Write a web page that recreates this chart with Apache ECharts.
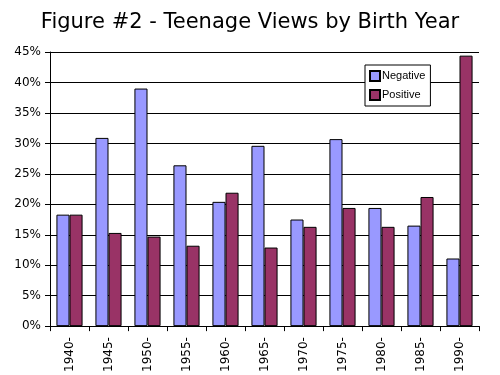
<!DOCTYPE html>
<html>
<head>
<meta charset="utf-8">
<script src="https://cdn.jsdelivr.net/npm/echarts@6/dist/echarts.min.js"></script>
<style>
  html, body { margin: 0; padding: 0; background: #fff; }
  #chart { width: 500px; height: 375px; }
</style>
</head>
<body>
<div id="chart"></div>
<script>
// birth year groups
const years = ["1940", "1945", "1950", "1955", "1960", "1965", "1970", "1975", "1980", "1985", "1990"];
// percent of teens
const negative = [18.3, 30.9, 39.0, 26.4, 20.4, 29.6, 17.5, 30.7, 19.4, 16.5, 11.1];
const positive = [18.3, 15.3, 14.7, 13.2, 21.9, 12.9, 16.3, 19.4, 16.3, 21.2, 44.4];

const chart = echarts.init(document.getElementById("chart"));
chart.setOption({
  animation: false,
  backgroundColor: "#fff",
  textStyle: { fontFamily: "DejaVu Sans" },
  title: {
    text: "Figure #2 - Teenage Views by Birth Year",
    left: "center",
    top: 7,
    textStyle: { fontSize: 21, fontWeight: "normal", color: "#000", fontFamily: "DejaVu Sans" }
  },
  legend: {
    orient: "vertical",
    left: 365,
    top: 65,
    padding: [5, 5, 5, 4],
    itemWidth: 10,
    itemHeight: 10,
    itemGap: 7,
    backgroundColor: "#fff",
    borderColor: "#000",
    borderWidth: 1,
    borderRadius: 0,
    textStyle: { fontSize: 11, color: "#000", fontFamily: "Liberation Sans", padding: [0, 0, 0, -3] },
    data: [
      { name: "Negative", icon: "rect" },
      { name: "Positive", icon: "rect" }
    ]
  },
  grid: { left: 50, right: 21, top: 52, bottom: 47, containLabel: false },
  xAxis: {
    type: "category",
    data: years,
    axisLine: { lineStyle: { color: "#000", width: 1 } },
    axisTick: { show: true, length: 5, lineStyle: { color: "#000" } },
    axisLabel: {
      rotate: 90,
      color: "#000",
      fontSize: 12,
      margin: 11,
      formatter: v => v + "-"
    }
  },
  yAxis: {
    type: "value",
    min: 0,
    max: 45,
    interval: 5,
    axisLine: { show: true, lineStyle: { color: "#000", width: 1 } },
    axisTick: { show: true, length: 5, lineStyle: { color: "#000" } },
    axisLabel: { color: "#000", fontSize: 12, margin: 9, formatter: "{value}%" },
    splitLine: { lineStyle: { color: "#000", width: 1 } }
  },
  series: [
    {
      name: "Negative",
      type: "bar",
      data: negative,
      barGap: "0%",
      barCategoryGap: "33%",
      itemStyle: { color: "#9999ff", borderColor: "#000", borderWidth: 1 }
    },
    {
      name: "Positive",
      type: "bar",
      data: positive,
      barGap: "0%",
      barCategoryGap: "33%",
      itemStyle: { color: "#993366", borderColor: "#000", borderWidth: 1 }
    }
  ]
});
</script>
</body>
</html>
